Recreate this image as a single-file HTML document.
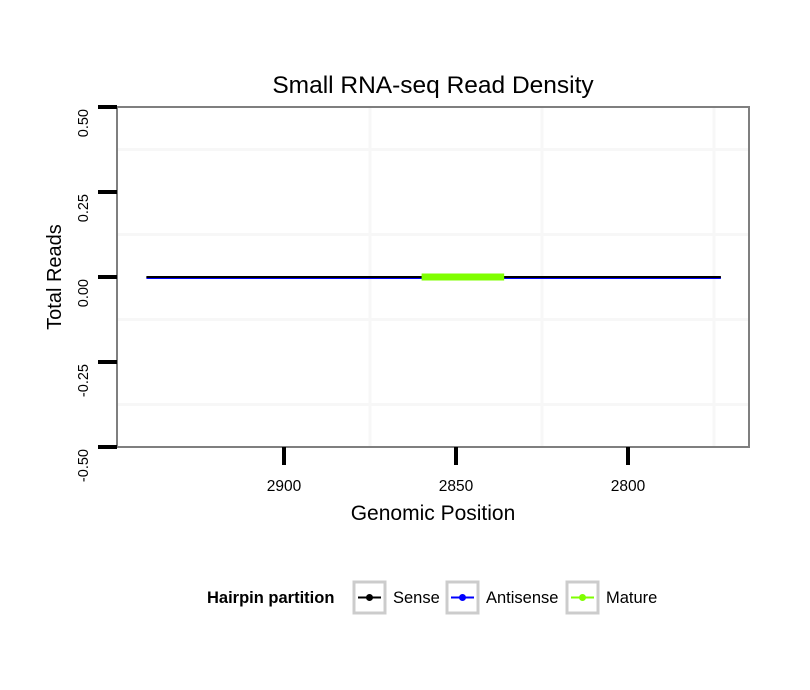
<!DOCTYPE html>
<html><head><meta charset="utf-8"><style>body{margin:0;background:#fff}svg{display:block;font-family:"Liberation Sans",sans-serif}</style></head>
<body>
<svg width="810" height="690">
<g id="plot"></g>
</svg>
<script>
const xTicks=[2900,2850,2800];
const yTicks=[0.5,0.25,0,-0.25,-0.5];
const yTickLabels=["0.50","0.25","0.00","-0.25","-0.50"];
const senseX=[2940,2773];
const senseY=[0,0];
const antisenseX=[2940,2773];
const antisenseY=[0,0];
const matureX=[2860,2836];
const matureY=[0,0];
const L=117,R=749,T=107,B=447;
const xs=v=>456+(2850-v)*3.44;
const ys=v=>277-v*340;
const g=document.getElementById('plot');
const NS='http://www.w3.org/2000/svg';
function mk(tag,a,txt){const e=document.createElementNS(NS,tag);for(const k in a)e.setAttribute(k,a[k]);if(txt!==undefined)e.textContent=txt;g.appendChild(e);return e;}
[0.375,0.125,-0.125,-0.375].forEach(v=>{const e=mk('line',{x1:L,x2:R,y1:ys(v),y2:ys(v),stroke:'#f7f7f7','stroke-width':3});

});
[2875,2825,2775].forEach(v=>{const e=mk('line',{x1:xs(v),x2:xs(v),y1:T,y2:B,stroke:'#f7f7f7','stroke-width':3});

});
let b=mk('rect',{x:L,y:T,width:R-L,height:B-T,fill:'none',stroke:'#7f7f7f','stroke-width':2});


yTicks.forEach((v,i)=>{const t=mk('line',{x1:98,x2:117,y1:ys(v),y2:ys(v),stroke:'#000','stroke-width':4});


const l=mk('text',{x:0,y:0,transform:`translate(88,${ys(v)+2}) rotate(-90)`,'text-anchor':'end','font-size':14.5},yTickLabels[i]);

});
xTicks.forEach(v=>{const t=mk('line',{x1:xs(v),x2:xs(v),y1:447,y2:465,stroke:'#000','stroke-width':4});


const l=mk('text',{x:xs(v),y:491,'text-anchor':'middle','font-size':15.5},String(v));

});
function series(xa,ya,col,w,name,dy){const pts=xa.map((x,i)=>xs(x)+','+(ys(ya[i])+dy)).join(' ');
const p=mk('polyline',{points:pts,fill:'none',stroke:col,'stroke-width':w});

}
series(antisenseX,antisenseY,'#0000ff',2,'antisense-line',1);
series(senseX,senseY,'#000',2,'sense-line',0);
series(matureX,matureY,'#7fff00',7,'mature-line',0);
let e=mk('text',{x:433,y:93,'text-anchor':'middle','font-size':24.5},'Small RNA-seq Read Density');


e=mk('text',{x:433,y:520,'text-anchor':'middle','font-size':21},'Genomic Position');


e=mk('text',{x:0,y:0,transform:'translate(61,277) rotate(-90)','text-anchor':'middle','font-size':20},'Total Reads');


e=mk('text',{x:207,y:603,'font-size':16.5,'font-weight':'bold'},'Hairpin partition');


const legNames=['Sense','Antisense','Mature'];
const legCols=['#000','#0000ff','#7fff00'];
const legX=[354,447,567];
legNames.forEach((n,i)=>{const x=legX[i];
const r=mk('rect',{x:x,y:582,width:31,height:31,fill:'#fff',stroke:'#cccccc','stroke-width':3});


mk('line',{x1:x+4,x2:x+27,y1:597.5,y2:597.5,stroke:legCols[i],'stroke-width':2});
mk('circle',{cx:x+15.5,cy:597.5,r:3.5,fill:legCols[i]});
const t=mk('text',{x:x+39,y:603,'font-size':16.5},n);

});
</script>
</body></html>
